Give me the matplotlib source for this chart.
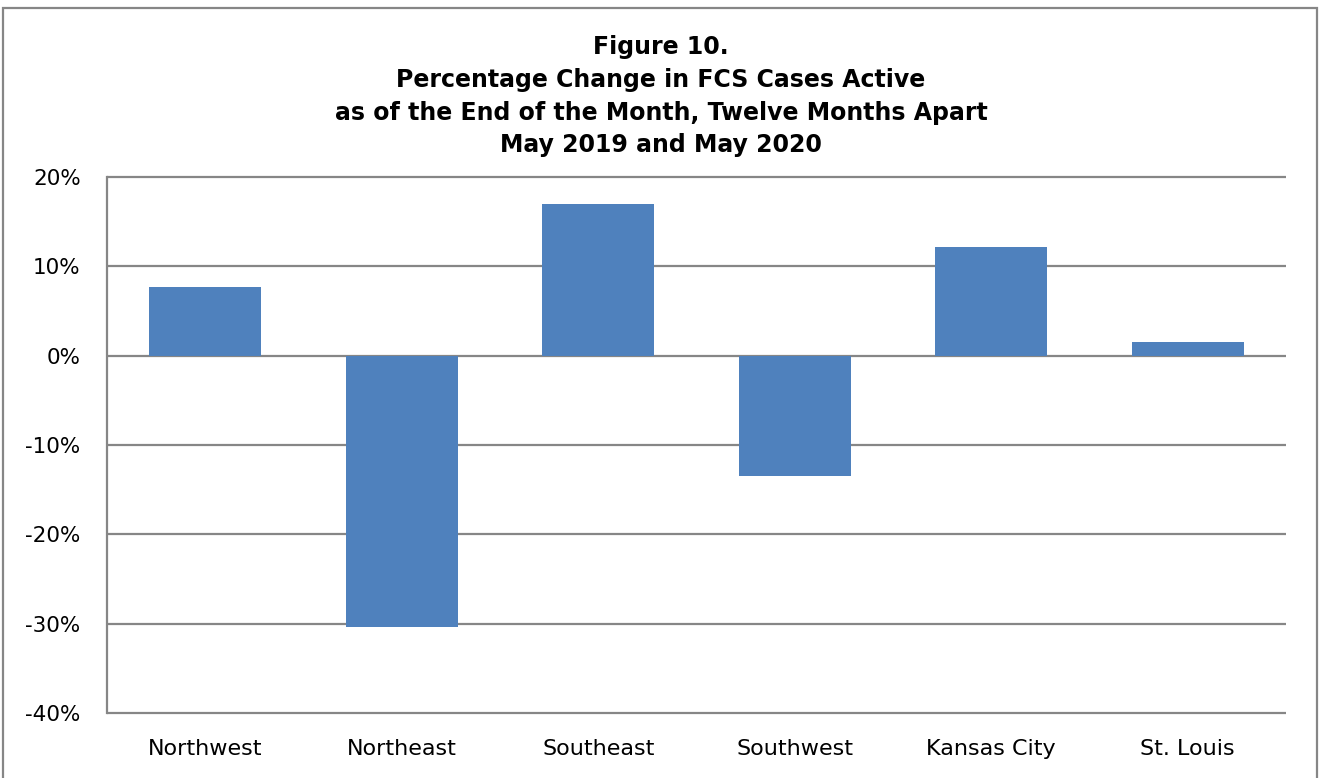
import matplotlib.pyplot as plt
import numpy as np
from matplotlib.patches import Rectangle

plt.rcParams['font.family'] = ['DejaVu Sans']

# data
regions = ['Northwest', 'Northeast', 'Southeast', 'Southwest', 'Kansas City', 'St. Louis']
pct_change = [7.7, -30.4, 17.0, -13.5, 12.2, 1.5]
y_ticks = [-40, -30, -20, -10, 0, 10, 20]

title_lines = ['Figure 10.',
               'Percentage Change in FCS Cases Active',
               'as of the End of the Month, Twelve Months Apart',
               'May 2019 and May 2020']

fig = plt.figure(figsize=(13.23, 7.78), dpi=100)
ax = fig.add_axes([0.0809, 0.0835, 0.891, 0.689])

x = np.arange(len(regions))
ax.bar(x, pct_change, width=0.57, color='#4F81BD', zorder=3)

ax.set_xlim(-0.5, len(regions) - 0.5)
ax.set_ylim(-40, 20)
ax.set_yticks(y_ticks)
ax.set_yticklabels([f'{v}%' for v in y_ticks], fontsize=15.5)
ax.set_xticks(x)
ax.set_xticklabels(regions, fontsize=16)
ax.tick_params(axis='both', length=0)
ax.tick_params(axis='x', pad=19)
ax.tick_params(axis='y', pad=19)

# horizontal gridlines (drawn unclipped so the top/bottom ones are full width)
ax.hlines(y_ticks, -0.5, len(regions) - 0.5, color='#868686', linewidth=1.6,
          zorder=1, clip_on=False)
for side in ['top', 'right', 'bottom']:
    ax.spines[side].set_visible(False)
ax.spines['left'].set_color('#868686')
ax.spines['left'].set_linewidth(1.6)

# title, one line at a time
for line, ypix in zip(title_lines, [47, 80, 113, 145]):
    fig.text(0.4996, 1 - ypix / 778, line, ha='center', va='center',
             fontsize=17, fontweight='bold')

# outer chart frame
fig.patches.append(Rectangle((3 / 1323, -0.01), 1314 / 1323, 1 - 8 / 778 + 0.01,
                             transform=fig.transFigure, fill=False,
                             edgecolor='#868686', linewidth=1.6))

fig.savefig('out.png', dpi=100)
